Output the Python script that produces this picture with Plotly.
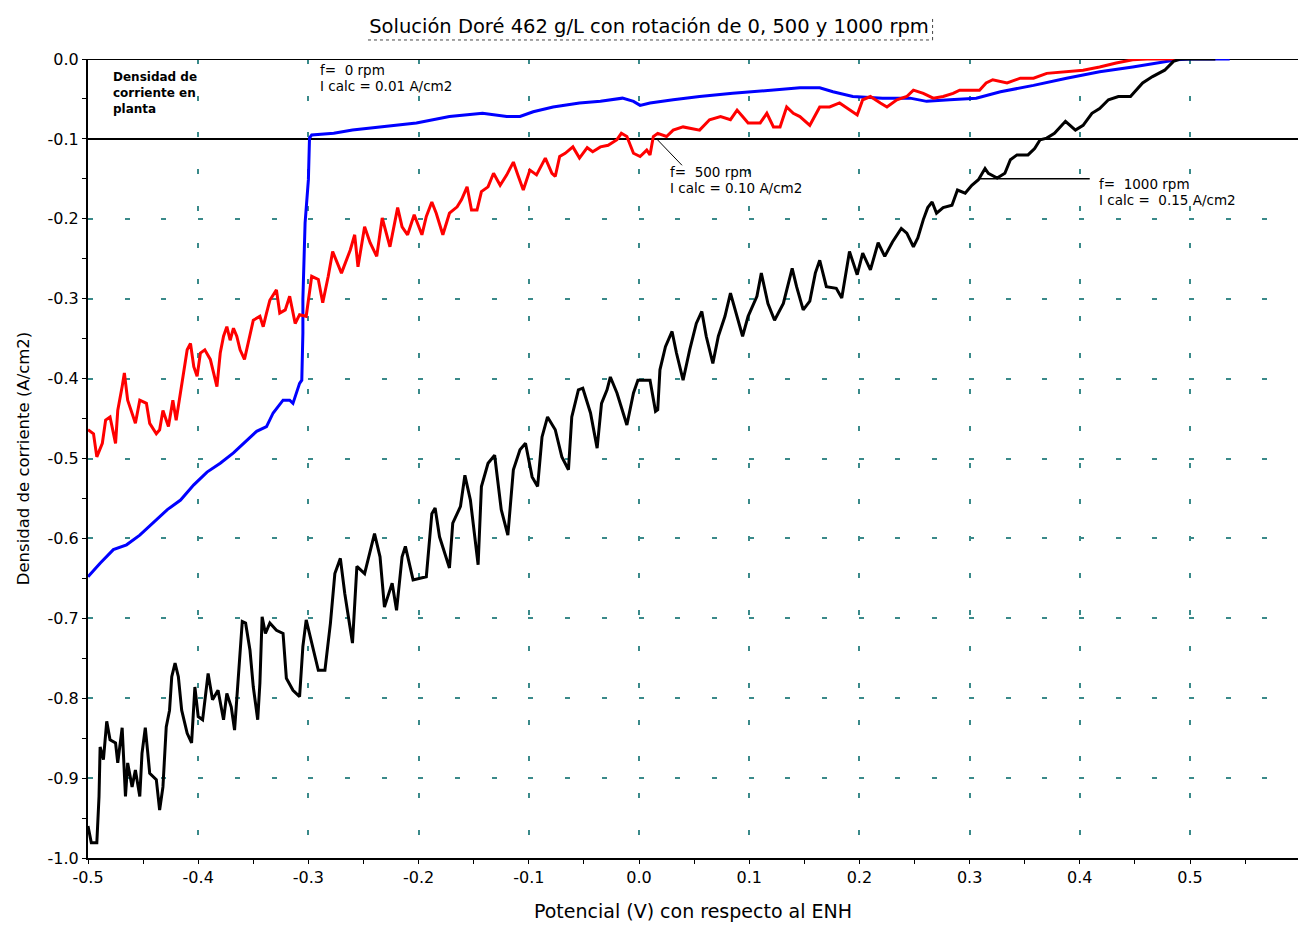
import plotly.graph_objects as go

# Potential (V vs ENH) and current density (A/cm2) for each rotation speed
x_1000 = [-0.500, -0.497, -0.492, -0.490, -0.489, -0.486, -0.483, -0.480, -0.475, -0.473,
          -0.469, -0.466, -0.464, -0.460, -0.457, -0.453, -0.451, -0.448, -0.446, -0.444,
          -0.438, -0.435, -0.432, -0.429, -0.426, -0.424, -0.421, -0.418, -0.415, -0.410,
          -0.406, -0.403, -0.400, -0.396, -0.391, -0.387, -0.382, -0.377, -0.374, -0.370,
          -0.367, -0.364, -0.360, -0.357, -0.353, -0.350, -0.346, -0.344, -0.342, -0.339,
          -0.335, -0.329, -0.323, -0.320, -0.314, -0.308, -0.305, -0.302, -0.296, -0.291,
          -0.285, -0.280, -0.276, -0.271, -0.267, -0.260, -0.256, -0.249, -0.240, -0.235,
          -0.231, -0.224, -0.220, -0.215, -0.212, -0.205, -0.193, -0.188, -0.185, -0.181,
          -0.172, -0.169, -0.162, -0.158, -0.153, -0.146, -0.143, -0.137, -0.131, -0.125,
          -0.119, -0.114, -0.108, -0.103, -0.097, -0.092, -0.088, -0.083, -0.076, -0.070,
          -0.064, -0.061, -0.055, -0.051, -0.044, -0.038, -0.034, -0.029, -0.026, -0.020,
          -0.011, -0.005, -0.001, 0.010, 0.015, 0.017, 0.019, 0.024, 0.030, 0.034,
          0.040, 0.046, 0.052, 0.057, 0.061, 0.067, 0.072, 0.078, 0.083, 0.089,
          0.094, 0.099, 0.107, 0.111, 0.117, 0.123, 0.131, 0.139, 0.143, 0.149,
          0.155, 0.160, 0.164, 0.170, 0.179, 0.184, 0.188, 0.191, 0.198, 0.203,
          0.210, 0.217, 0.223, 0.230, 0.238, 0.243, 0.249, 0.253, 0.258, 0.262,
          0.266, 0.270, 0.276, 0.284, 0.289, 0.296, 0.302, 0.308, 0.314, 0.317,
          0.325, 0.332, 0.337, 0.343, 0.353, 0.359, 0.364, 0.370, 0.377, 0.387,
          0.396, 0.403, 0.411, 0.418, 0.426, 0.435, 0.446, 0.457, 0.466, 0.477,
          0.485, 0.491, 0.523]
y_1000 = [-0.960, -0.981, -0.981, -0.923, -0.861, -0.877, -0.829, -0.852, -0.856, -0.881,
          -0.837, -0.923, -0.881, -0.911, -0.890, -0.923, -0.869, -0.837, -0.865, -0.894,
          -0.902, -0.940, -0.911, -0.836, -0.815, -0.773, -0.756, -0.773, -0.815, -0.844,
          -0.856, -0.786, -0.823, -0.827, -0.769, -0.802, -0.790, -0.827, -0.794, -0.811,
          -0.840, -0.777, -0.704, -0.706, -0.740, -0.786, -0.827, -0.781, -0.698, -0.719,
          -0.706, -0.715, -0.719, -0.775, -0.790, -0.798, -0.735, -0.702, -0.736, -0.765,
          -0.765, -0.706, -0.644, -0.625, -0.669, -0.731, -0.635, -0.644, -0.594, -0.623,
          -0.686, -0.656, -0.690, -0.623, -0.610, -0.652, -0.648, -0.569, -0.562, -0.598,
          -0.637, -0.581, -0.560, -0.521, -0.552, -0.633, -0.535, -0.506, -0.496, -0.564,
          -0.596, -0.514, -0.489, -0.481, -0.523, -0.535, -0.473, -0.448, -0.464, -0.498,
          -0.514, -0.448, -0.414, -0.412, -0.443, -0.487, -0.431, -0.414, -0.398, -0.418,
          -0.458, -0.418, -0.402, -0.402, -0.441, -0.439, -0.389, -0.360, -0.341, -0.368,
          -0.402, -0.364, -0.331, -0.316, -0.347, -0.381, -0.347, -0.322, -0.293, -0.322,
          -0.347, -0.322, -0.297, -0.268, -0.306, -0.327, -0.306, -0.262, -0.285, -0.314,
          -0.303, -0.268, -0.252, -0.285, -0.287, -0.299, -0.268, -0.241, -0.270, -0.243,
          -0.264, -0.230, -0.247, -0.229, -0.212, -0.218, -0.235, -0.224, -0.201, -0.186,
          -0.179, -0.193, -0.186, -0.183, -0.164, -0.168, -0.158, -0.151, -0.137, -0.143,
          -0.149, -0.143, -0.126, -0.120, -0.120, -0.112, -0.101, -0.099, -0.093, -0.078,
          -0.089, -0.083, -0.068, -0.062, -0.051, -0.047, -0.047, -0.030, -0.022, -0.014,
          -0.003, 0.000, 0.000]

x_500 = [-0.500, -0.495, -0.492, -0.487, -0.484, -0.480, -0.475, -0.473, -0.469, -0.467,
         -0.464, -0.457, -0.453, -0.447, -0.444, -0.438, -0.435, -0.432, -0.427, -0.423,
         -0.420, -0.415, -0.410, -0.407, -0.404, -0.401, -0.398, -0.394, -0.389, -0.383,
         -0.380, -0.377, -0.374, -0.371, -0.368, -0.365, -0.362, -0.358, -0.355, -0.350,
         -0.344, -0.341, -0.338, -0.335, -0.329, -0.326, -0.321, -0.317, -0.312, -0.308,
         -0.302, -0.297, -0.291, -0.287, -0.282, -0.278, -0.270, -0.262, -0.258, -0.255,
         -0.249, -0.244, -0.238, -0.233, -0.226, -0.219, -0.215, -0.210, -0.204, -0.197,
         -0.193, -0.188, -0.184, -0.178, -0.172, -0.165, -0.161, -0.156, -0.152, -0.147,
         -0.143, -0.137, -0.132, -0.126, -0.120, -0.114, -0.110, -0.105, -0.099, -0.093,
         -0.085, -0.079, -0.076, -0.072, -0.067, -0.060, -0.054, -0.047, -0.042, -0.035,
         -0.028, -0.020, -0.016, -0.011, -0.005, 0.001, 0.007, 0.010, 0.013, 0.017,
         0.025, 0.031, 0.040, 0.055, 0.064, 0.074, 0.083, 0.089, 0.094, 0.099,
         0.110, 0.116, 0.122, 0.128, 0.134, 0.140, 0.146, 0.155, 0.164, 0.173,
         0.182, 0.191, 0.198, 0.203, 0.210, 0.219, 0.225, 0.234, 0.243, 0.249,
         0.258, 0.267, 0.276, 0.285, 0.291, 0.309, 0.315, 0.321, 0.334, 0.346,
         0.358, 0.370, 0.388, 0.403, 0.418, 0.433, 0.448, 0.461, 0.488]
y_500 = [-0.464, -0.469, -0.498, -0.481, -0.452, -0.448, -0.481, -0.440, -0.410, -0.393,
         -0.427, -0.456, -0.427, -0.431, -0.456, -0.469, -0.464, -0.440, -0.460, -0.427,
         -0.452, -0.410, -0.364, -0.356, -0.385, -0.397, -0.368, -0.364, -0.376, -0.410,
         -0.368, -0.347, -0.335, -0.352, -0.337, -0.347, -0.364, -0.376, -0.356, -0.327,
         -0.322, -0.335, -0.318, -0.302, -0.289, -0.318, -0.314, -0.297, -0.331, -0.320,
         -0.322, -0.272, -0.276, -0.305, -0.272, -0.241, -0.268, -0.239, -0.220, -0.260,
         -0.210, -0.230, -0.247, -0.199, -0.235, -0.186, -0.210, -0.220, -0.195, -0.220,
         -0.197, -0.179, -0.193, -0.220, -0.193, -0.185, -0.176, -0.160, -0.189, -0.189,
         -0.166, -0.160, -0.143, -0.158, -0.145, -0.129, -0.145, -0.164, -0.139, -0.145,
         -0.124, -0.143, -0.147, -0.122, -0.118, -0.110, -0.124, -0.111, -0.116, -0.110,
         -0.108, -0.101, -0.093, -0.097, -0.118, -0.122, -0.114, -0.120, -0.097, -0.093,
         -0.097, -0.089, -0.085, -0.089, -0.076, -0.072, -0.076, -0.064, -0.072, -0.080,
         -0.080, -0.068, -0.085, -0.085, -0.060, -0.068, -0.072, -0.083, -0.060, -0.060,
         -0.055, -0.064, -0.070, -0.051, -0.047, -0.055, -0.060, -0.051, -0.047, -0.039,
         -0.043, -0.049, -0.047, -0.043, -0.039, -0.039, -0.030, -0.026, -0.030, -0.024,
         -0.024, -0.018, -0.016, -0.014, -0.010, -0.005, -0.001, 0.000, 0.000]

x_0 = [-0.500, -0.489, -0.477, -0.465, -0.453, -0.441, -0.428, -0.416, -0.404, -0.392,
       -0.380, -0.368, -0.356, -0.347, -0.338, -0.332, -0.323, -0.317, -0.314, -0.311,
       -0.308, -0.306, -0.305, -0.305, -0.303, -0.300, -0.299, -0.297, -0.277, -0.260,
       -0.232, -0.202, -0.172, -0.142, -0.120, -0.108, -0.096, -0.078, -0.054, -0.035,
       -0.015, -0.005, 0.001, 0.010, 0.031, 0.055, 0.085, 0.116, 0.146, 0.164,
       0.176, 0.194, 0.221, 0.246, 0.261, 0.282, 0.306, 0.328, 0.358, 0.388,
       0.418, 0.448, 0.472, 0.488, 0.500, 0.536]
y_0 = [-0.648, -0.631, -0.614, -0.608, -0.596, -0.581, -0.564, -0.552, -0.533, -0.517,
       -0.506, -0.493, -0.477, -0.466, -0.460, -0.443, -0.427, -0.427, -0.431, -0.418,
       -0.406, -0.402, -0.343, -0.300, -0.205, -0.151, -0.099, -0.095, -0.093, -0.089,
       -0.085, -0.080, -0.072, -0.068, -0.072, -0.072, -0.066, -0.060, -0.055, -0.053,
       -0.049, -0.053, -0.058, -0.055, -0.051, -0.047, -0.043, -0.039, -0.036, -0.036,
       -0.041, -0.047, -0.049, -0.049, -0.053, -0.051, -0.049, -0.041, -0.033, -0.024,
       -0.016, -0.010, -0.005, -0.001, 0.000, 0.000]

# Limiting current densities read on each curve
i_calc_500 = -0.10
i_calc_1000 = -0.15
plant_density = -0.10

x_ticks = [-0.5, -0.4, -0.3, -0.2, -0.1, 0.0, 0.1, 0.2, 0.3, 0.4, 0.5]
y_ticks = [0.0, -0.1, -0.2, -0.3, -0.4, -0.5, -0.6, -0.7, -0.8, -0.9, -1.0]

FONT = "DejaVu Sans, Verdana, sans-serif"
GRID = "#3a8a8a"

fig = go.Figure()

# Reference lines: zero current and plant current density
for yv in [0.0, plant_density]:
    fig.add_trace(go.Scatter(x=[-0.5, 0.598], y=[yv, yv], mode="lines",
                             line=dict(color="black", width=2),
                             hoverinfo="skip", showlegend=False))

fig.add_trace(go.Scatter(x=x_0, y=y_0, mode="lines", name="0 rpm",
                         line=dict(color="#0000ff", width=3)))
fig.add_trace(go.Scatter(x=x_500, y=y_500, mode="lines", name="500 rpm",
                         line=dict(color="#ff0000", width=3)))
fig.add_trace(go.Scatter(x=x_1000, y=y_1000, mode="lines", name="1000 rpm",
                         line=dict(color="black", width=3)))

# Leader lines for the labels
fig.add_trace(go.Scatter(x=[0.016, 0.039], y=[i_calc_500, i_calc_500 - 0.033], mode="lines",
                         line=dict(color="black", width=1), hoverinfo="skip", showlegend=False))
fig.add_trace(go.Scatter(x=[0.309, 0.409], y=[i_calc_1000, i_calc_1000], mode="lines",
                         line=dict(color="black", width=1.5), hoverinfo="skip", showlegend=False))


def label_lines(x, y_first, lines, size=13.5, bold=False, step=0.020):
    """Place a left-aligned block of text, one annotation per line."""
    for k, line in enumerate(lines):
        fig.add_annotation(x=x, y=y_first - k * step, xref="x", yref="y",
                           xanchor="left", yanchor="middle",
                           text=f"<b>{line}</b>" if bold else line, showarrow=False,
                           font=dict(family=FONT, size=size, color="black"))


label_lines(-0.479, -0.0225, ["Densidad de", "corriente en", "planta"], size=12, bold=True)
label_lines(-0.291, -0.0138, ["f=  0 rpm", "I calc = 0.01 A/cm2"])
label_lines(0.026, i_calc_500 - 0.0414, ["f=  500 rpm", "I calc = 0.10 A/cm2"])
label_lines(0.4156, i_calc_1000 - 0.0064, ["f=  1000 rpm", "I calc =  0.15 A/cm2"])

# Dotted frame beneath and beside the title
fig.add_shape(type="line", xref="paper", yref="paper", x0=0.2314, x1=0.698, y0=1.0238, y1=1.0238,
              line=dict(color="#444", width=1, dash="dot"))
fig.add_shape(type="line", xref="paper", yref="paper", x0=0.698, x1=0.698, y0=1.0238, y1=1.0538,
              line=dict(color="#444", width=1, dash="dot"))

axis_common = dict(
    showline=True, linecolor="black", linewidth=2,
    showgrid=True, gridcolor=GRID, gridwidth=2, griddash="5px,31.7px",
    zeroline=False, ticks="outside", tickcolor="black", ticklen=4, tickwidth=1,
    tickfont=dict(family=FONT, size=16, color="black"),
    minor=dict(ticks="outside", ticklen=4, tickcolor="black", dtick=0.05, showgrid=False),
)

fig.update_layout(
    width=1298, height=925,
    margin=dict(l=88, r=0, t=59, b=67),
    paper_bgcolor="white", plot_bgcolor="white",
    showlegend=False,
    title=dict(text="Solución Doré 462 g/L con rotación de 0, 500 y 1000 rpm",
               x=0.5, xref="container", xanchor="center",
               y=0.972, yref="container", yanchor="middle",
               font=dict(family=FONT, size=19.5, color="black")),
    xaxis=dict(range=[-0.5, 0.598], tickvals=x_ticks, ticktext=[f"{v:.1f}" for v in x_ticks],
               title=dict(text="Potencial (V) con respecto al ENH", standoff=18,
                          font=dict(family=FONT, size=19, color="black")),
               **axis_common),
    yaxis=dict(range=[-1.0, 0.0], tickvals=y_ticks, ticktext=[f"{v:.1f}" for v in y_ticks],
               title=dict(text="Densidad de corriente (A/cm2)", standoff=14,
                          font=dict(family=FONT, size=16.5, color="black")),
               **axis_common),
)

fig.write_html("out.html")
